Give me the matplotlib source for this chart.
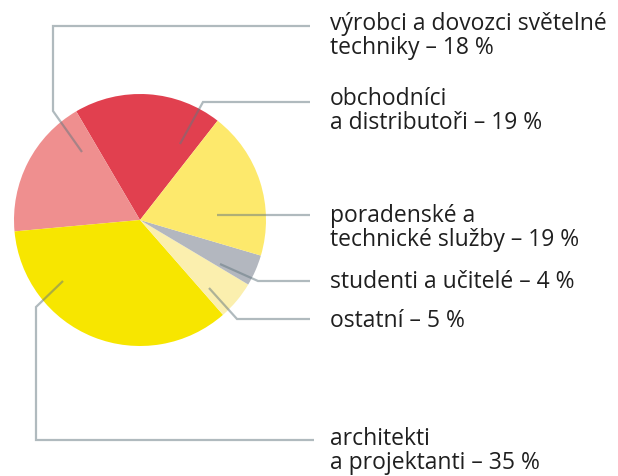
import matplotlib
matplotlib.use("Agg")
import matplotlib.pyplot as plt

# ---- data ----
categories = ["obchodníci\na distributoři", "výrobci a dovozci světelné\ntechniky",
              "architekti\na projektanti", "ostatní", "studenti a učitelé",
              "poradenské a\ntechnické služby"]
values = [19, 18, 35, 5, 4, 19]
colors = ["#e1404f", "#ef8f8f", "#f7e600", "#fbefae", "#b3b7bf", "#fde96c"]

W, H = 618, 477
fig = plt.figure(figsize=(W / 100, H / 100), dpi=100)
ax = fig.add_axes([0, 0, 1, 1])

def py(y):  # pixel y (top-down) -> data y (bottom-up)
    return H - y

ax.pie(values, colors=colors, startangle=52, counterclock=True,
       center=(140, py(221)), radius=126, frame=True,
       wedgeprops=dict(linewidth=0))

# ---- annotation layout (pixel coords, top-down) ----
leaders = [
    [(82, 153), (53, 112), (53, 27), (310, 27)],           # výrobci
    [(180, 145), (203, 103), (310, 103)],                  # obchodníci
    [(217, 216), (310, 216)],                              # poradenské
    [(220, 265), (258, 282), (310, 282)],                  # studenti
    [(209, 289), (237, 320), (310, 320)],                  # ostatní
    [(63, 282), (36, 308), (36, 441), (314, 441)],         # architekti
]
for pts in leaders:
    xs = [p[0] for p in pts]
    ys = [py(p[1]) for p in pts]
    ax.plot(xs, ys, color="#62767f", alpha=0.5, lw=1.6,
            solid_joinstyle="miter", solid_capstyle="butt")

# each entry: (lines, x, baseline of first line)
labels = [
    (["výrobci a dovozci světelné", "techniky – 18 %"], 330, 30),
    (["obchodníci", "a distributoři – 19 %"], 330, 105),
    (["poradenské a", "technické služby – 19 %"], 330, 222),
    (["studenti a učitelé – 4 %"], 330, 288),
    (["ostatní – 5 %"], 330, 327),
    (["architekti", "a projektanti – 35 %"], 330, 445),
]
LS = 25
for lines, x, y in labels:
    for i, line in enumerate(lines):
        ax.text(x, py(y + i * LS - (1 if i else 0)), line, fontsize=16.5,
                family=["Open Sans", "DejaVu Sans"],
                color="#1f1f1f", ha="left", va="baseline")

ax.set_xlim(0, W)
ax.set_ylim(0, H)
ax.set_aspect("equal")
ax.axis("off")
fig.savefig("out.png", dpi=100)
